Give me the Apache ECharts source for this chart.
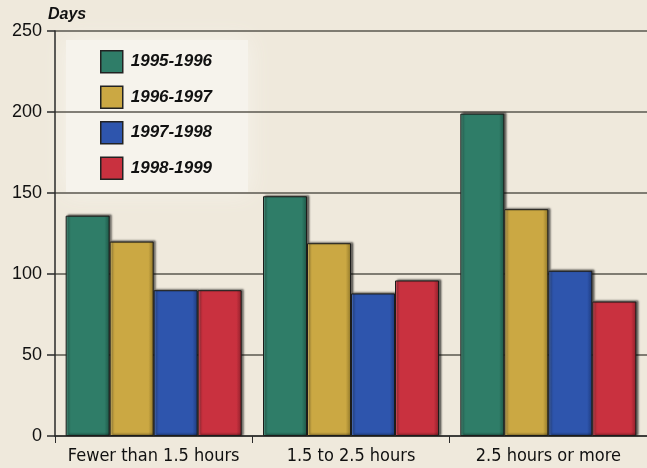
<!DOCTYPE html>
<html>
<head>
<meta charset="utf-8">
<script src="https://cdn.jsdelivr.net/npm/echarts@6/dist/echarts.min.js"></script>
<style>
  html, body { margin: 0; padding: 0; background: #efe9dc; }
  #chart { width: 647px; height: 468px; }
</style>
</head>
<body>
<div id="chart"></div>
<script>
// Commute length groups on the x axis
const categories = ['Fewer than 1.5 hours', '1.5 to 2.5 hours', '2.5 hours or more'];

// Days per school year, one array per year
const seriesNames = ['1995-1996', '1996-1997', '1997-1998', '1998-1999'];
const days9596 = [136, 148, 199];
const days9697 = [120, 119, 140];
const days9798 = [90, 88, 102];
const days9899 = [90, 96, 83];
const seriesValues = [days9596, days9697, days9798, days9899];

// Y axis ticks
const yTicks = [0, 50, 100, 150, 200, 250];

const palette = ['#2f7d68', '#cba843', '#2e55ad', '#c9313f'];
const lighter = ['#5fa893', '#e3c978', '#5c82cf', '#e06470'];
const darker = ['#1d5646', '#8f7628', '#1d3a7c', '#8c1f2a'];

function barFill(i) {
  return new echarts.graphic.LinearGradient(0, 0, 1, 0, [
    { offset: 0, color: lighter[i] },
    { offset: 0.08, color: palette[i] },
    { offset: 0.88, color: palette[i] },
    { offset: 1, color: darker[i] }
  ]);
}

const chart = echarts.init(document.getElementById('chart'), null, { renderer: 'canvas' });

const series = seriesNames.map((name, i) => ({
  name: name,
  type: 'bar',
  data: seriesValues[i],
  barWidth: 44,
  barGap: '0%',
  itemStyle: {
    color: barFill(i),
    borderColor: '#1c1c1a',
    borderWidth: 1,
    shadowColor: 'rgba(0,0,0,0.55)',
    shadowBlur: 2,
    shadowOffsetX: 2,
    shadowOffsetY: -1
  },
  emphasis: { disabled: true }
}));

chart.setOption({
  backgroundColor: '#efe9dc',
  animation: false,
  color: palette,
  grid: { left: 55, top: 31, width: 596, bottom: 32, containLabel: false },
  legend: {
    orient: 'vertical',
    left: 100,
    top: 50,
    padding: 0,
    itemGap: 12,
    itemWidth: 22,
    itemHeight: 22,
    icon: 'rect',
    data: seriesNames.map((n, i) => ({
      name: n,
      itemStyle: { color: palette[i], borderColor: '#222', borderWidth: 1.5 }
    })),
    textStyle: {
      fontFamily: 'Liberation Sans',
      fontStyle: 'italic',
      fontWeight: 'bold',
      fontSize: 17,
      color: '#111',
      padding: [0, 0, 0, 3]
    }
  },
  graphic: [{
    // soft pale panel behind the legend, drawn under the grid lines
    type: 'rect',
    z: -10,
    shape: { x: 66, y: 40, width: 182, height: 152 },
    style: {
      fill: '#f6f3ec',
      shadowColor: 'rgba(246,243,236,1)',
      shadowBlur: 22
    },
    silent: true
  }, {
    type: 'text',
    left: 48,
    top: 7,
    style: {
      text: 'Days',
      font: 'italic bold 16px "Liberation Sans"',
      fill: '#111'
    }
  }],
  xAxis: {
    type: 'category',
    data: categories,
    axisLine: { lineStyle: { color: '#2a2a2a', width: 1.5 } },
    axisTick: { show: true, length: 7, lineStyle: { color: '#2a2a2a' } },
    axisLabel: {
      fontFamily: '"DejaVu Sans Condensed", "Liberation Sans"',
      fontSize: 18,
      color: '#111',
      margin: 11,
      interval: 0,
      hideOverlap: false
    }
  },
  yAxis: {
    type: 'value',
    min: 0,
    max: 250,
    interval: 50,
    axisLine: { show: true, lineStyle: { color: '#2a2a2a', width: 1.5 } },
    axisTick: { show: true, length: 8, lineStyle: { color: '#2a2a2a', width: 1.5 } },
    splitLine: { show: true, lineStyle: { color: '#5a574f', width: 1.5 } },
    axisLabel: {
      fontFamily: 'Liberation Sans',
      fontSize: 18,
      color: '#111',
      margin: 13,
      formatter: v => (yTicks.indexOf(v) >= 0 ? String(v) : '')
    }
  },
  series: series
});
</script>
</body>
</html>
